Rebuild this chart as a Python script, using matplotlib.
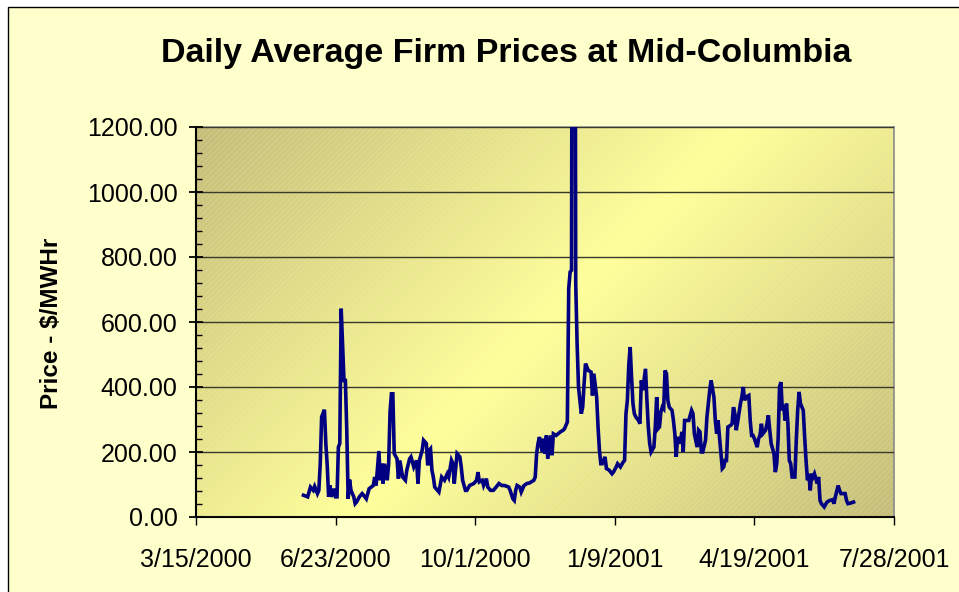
import numpy as np
import matplotlib
matplotlib.use("Agg")
import matplotlib.pyplot as plt
import matplotlib.dates as mdates
from matplotlib.patches import Rectangle
from matplotlib.ticker import MultipleLocator, FixedLocator, FuncFormatter

plt.rcParams['font.family'] = ['Liberation Sans', 'DejaVu Sans']
plt.rcParams['hatch.linewidth'] = 0.6

# days counted from 3/15/2000, price in $/MWh
start = np.datetime64('2000-03-15')
days = [77, 80, 82, 84, 85, 87, 88, 89, 90, 92, 93, 94, 95, 96, 97, 99, 100, 101,
        102, 103, 104, 105, 106, 107, 108, 109, 110, 111, 113, 114, 115, 117, 119,
        121, 122, 124, 127, 128, 129, 131, 132, 133, 134, 135, 137, 138, 139, 140,
        141, 142, 144, 145, 146, 148, 150, 151, 153, 154, 156, 158, 159, 160, 162,
        163, 165, 166, 167, 168, 169, 170, 171, 173, 174, 176, 178, 180, 181, 183,
        184, 185, 187, 189, 190, 191, 193, 194, 196, 199, 201, 202, 203, 205, 206,
        208, 209, 211, 213, 215, 217, 219, 221, 224, 225, 227, 228, 229, 230, 232,
        233, 235, 237, 239, 242, 243, 244, 245, 246, 248, 249, 250, 251, 252, 254,
        255, 256, 258, 261, 263, 264, 266, 267, 268, 269, 270, 271, 272, 273, 274,
        276, 277, 278, 279, 281, 283, 284, 285, 287, 288, 289, 290, 291, 293, 294,
        296, 298, 299, 301, 302, 304, 306, 307, 308, 309, 310, 311, 312, 313, 314,
        315, 317, 318, 319, 320, 322, 323, 324, 325, 326, 328, 329, 330, 331, 332,
        333, 334, 335, 336, 337, 338, 339, 341, 342, 343, 344, 345, 347, 348, 349,
        350, 352, 353, 355, 356, 357, 359, 360, 361, 362, 363, 365, 366, 367, 368,
        369, 371, 372, 373, 374, 375, 377, 378, 379, 380, 381, 383, 384, 385, 386,
        387, 388, 390, 391, 392, 393, 394, 396, 397, 398, 399, 400, 402, 403, 404,
        405, 406, 408, 409, 410, 411, 412, 414, 415, 416, 417, 418, 419, 420, 421,
        422, 423, 424, 425, 426, 427, 429, 430, 431, 432, 433, 435, 436, 437, 438,
        439, 440, 441, 442, 443, 445, 446, 447, 448, 450, 452, 454, 456, 457, 458,
        460, 461, 462, 465, 466, 467, 469, 471]
price = [67, 62, 92, 82, 94, 72, 82, 164, 308, 330, 226, 159, 62, 97, 62, 87, 62, 62,
         215, 226, 641, 533, 420, 420, 267, 56, 115, 82, 62, 41, 46, 62, 72,
         62, 56, 87, 97, 123, 97, 203, 113, 164, 103, 164, 113, 164, 323, 379,
         379, 195, 179, 118, 174, 123, 113, 144, 179, 185, 154, 174, 103, 174, 205,
         236, 226, 159, 205, 210, 144, 123, 92, 82, 77, 123, 113, 133, 123, 174,
         164, 103, 195, 185, 154, 113, 82, 82, 97, 103, 113, 138, 108, 113, 97,
         118, 92, 82, 82, 92, 103, 97, 97, 92, 82, 56, 51, 82, 97, 92,
         77, 97, 103, 105, 113, 123, 195, 226, 246, 200, 241, 195, 251, 179, 251,
         190, 256, 251, 262, 267, 272, 292, 703, 754, 759, 3000, 3200, 720, 533, 400,
         318, 338, 410, 472, 451, 446, 374, 441, 369, 277, 205, 164, 164, 185, 149,
         144, 133, 138, 154, 164, 154, 169, 174, 318, 359, 467, 523, 431, 349, 318,
         308, 297, 287, 420, 390, 456, 359, 277, 226, 200, 215, 277, 369, 272, 277,
         323, 338, 333, 451, 441, 359, 338, 328, 297, 256, 185, 246, 226, 262, 200,
         297, 297, 297, 328, 318, 256, 215, 267, 262, 200, 200, 236, 308, 349, 390,
         420, 369, 297, 256, 297, 246, 149, 154, 174, 174, 277, 282, 287, 338, 318,
         267, 292, 349, 369, 400, 359, 369, 374, 297, 251, 251, 241, 215, 241, 251,
         287, 256, 267, 287, 313, 267, 226, 195, 138, 164, 241, 400, 415, 328, 344,
         297, 349, 287, 174, 164, 123, 123, 236, 328, 385, 349, 328, 246, 174, 113,
         133, 82, 133, 123, 133, 103, 123, 51, 41, 31, 46, 51, 53, 41, 62,
         97, 82, 72, 72, 51, 41, 43, 46]

tick_days = [0, 100, 200, 300, 400, 500]
y_max = 1200

dates = start + np.array(days).astype('timedelta64[D]')
tick_dates = start + np.array(tick_days).astype('timedelta64[D]')

fig = plt.figure(figsize=(9.59, 5.92), dpi=100)
fig.patch.set_facecolor('white')
fig.patches.append(Rectangle((8 / 959, -0.1), 1.2, 1.1 - 7 / 592, transform=fig.transFigure,
                             facecolor='#FFFFCC', edgecolor='black', linewidth=1.0, zorder=-10))

ax = fig.add_axes([196 / 959, 1 - 517 / 592, 698 / 959, 390 / 592])

# gradient: dark olive at top-left and bottom-right corners, light yellow across the middle
w, h = 698, 390
gx, gy = np.meshgrid(np.linspace(0, 1, 300), np.linspace(0, 1, 200))
s = (gx * w + gy * h) / (w + h)          # 0 at top-left, 1 at bottom-right (image rows go down)
t = np.abs(s - 0.5) * 2
dark = np.array([0.77, 0.74, 0.47])
light = np.array([1.0, 1.0, 0.60])
img = light[None, None, :] * (1 - t[..., None]) + dark[None, None, :] * t[..., None]
ax.imshow(img, extent=[0, 1, 0, 1], transform=ax.transAxes, aspect='auto', zorder=0,
          interpolation='bilinear')
ax.add_patch(Rectangle((0, 0), 1, 1, transform=ax.transAxes, facecolor='none',
                       edgecolor=(1, 1, 1, 0.18), linewidth=0, hatch='//////', zorder=0.5))

ax.plot(dates, price, color='#000080', linewidth=2.6, zorder=3, solid_joinstyle='miter')

ax.set_xlim(tick_dates[0], tick_dates[-1])
ax.set_ylim(0, y_max)

ax.yaxis.set_major_locator(MultipleLocator(200))
ax.yaxis.set_minor_locator(MultipleLocator(40))
ax.yaxis.set_major_formatter(FuncFormatter(lambda v, p: '%.2f' % v))
ax.xaxis.set_major_locator(FixedLocator(mdates.date2num(tick_dates)))


def date_label(v, p):
    d = mdates.num2date(v)
    return '%d/%d/%d' % (d.month, d.day, d.year)


ax.xaxis.set_major_formatter(FuncFormatter(date_label))

ax.grid(axis='y', which='major', color='#3a3a2a', linewidth=1.0, zorder=1)
ax.set_axisbelow(False)
for gl in ax.get_ygridlines():
    gl.set_zorder(1)

ax.tick_params(axis='y', which='major', direction='inout', length=10.5, width=1.3,
               labelsize=18, pad=8, colors='black')
ax.tick_params(axis='y', which='minor', direction='in', length=4, width=1.0)
ax.tick_params(axis='x', which='major', direction='out', length=6, width=1.0,
               labelsize=18, pad=16)

for side in ['top', 'right']:
    ax.spines[side].set_color('#8a8a8a')
    ax.spines[side].set_linewidth(1.2)
for side in ['left', 'bottom']:
    ax.spines[side].set_color('black')
    ax.spines[side].set_linewidth(1.5)

fig.text(506 / 959, 1 - 62 / 592, 'Daily Average Firm Prices at Mid-Columbia',
         ha='center', va='baseline', fontsize=24.5, fontweight='bold')
fig.text(52 / 959, 1 - 323 / 592, 'Price - $/MWHr', rotation=90, ha='center',
         va='center', fontsize=17.5, fontweight='bold')

fig.savefig('out.png', dpi=100)
